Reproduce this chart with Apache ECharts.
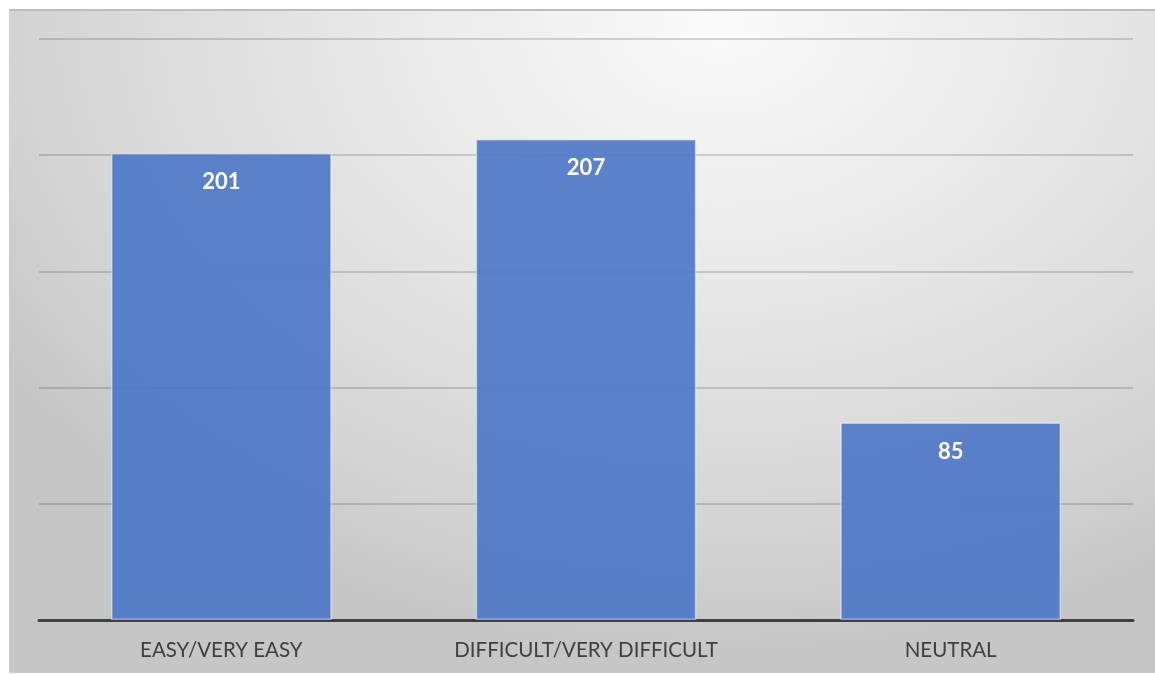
<!DOCTYPE html>
<html>
<head>
<meta charset="utf-8">
<script src="https://cdn.jsdelivr.net/npm/echarts@6/dist/echarts.min.js"></script>
<style>
  html, body { margin: 0; padding: 0; background: #ffffff; }
  #wrap {
    position: absolute; left: 9px; top: 9px; width: 1146px; height: 664px;
    box-sizing: border-box;
    border-top: 2px solid #bdbdbd;
    background: radial-gradient(ellipse 75% 95% at 62% 2%, #fafafa 0%, #e6e6e6 45%, #d4d4d4 80%, #c6c6c6 100%);
  }
  #chart { width: 100%; height: 100%; }
</style>
</head>
<body>
<div id="wrap"><div id="chart"></div></div>
<script>
// Responses by perceived difficulty
const categories = ['EASY/VERY EASY', 'DIFFICULT/VERY DIFFICULT', 'NEUTRAL'];
const counts = [201, 207, 85];

const chart = echarts.init(document.getElementById('chart'), null, { renderer: 'canvas' });
chart.setOption({
  backgroundColor: 'transparent',
  animation: false,
  grid: { left: 30, right: 22, top: 28, bottom: 53 },
  xAxis: {
    type: 'category',
    data: categories,
    axisTick: { show: false },
    axisLine: { lineStyle: { color: '#404040', width: 3 } },
    axisLabel: {
      color: '#404040', fontSize: 20.5, fontFamily: 'Lato, "Open Sans", sans-serif',
      margin: 20
    }
  },
  yAxis: {
    type: 'value',
    min: 0, max: 250, interval: 50,
    axisLabel: { show: false },
    axisLine: { show: false },
    axisTick: { show: false },
    splitLine: { lineStyle: { color: 'rgba(0,0,0,0.2)', width: 1.5 } }
  },
  series: [{
    type: 'bar',
    data: counts,
    barCategoryGap: '39.5%',
    itemStyle: {
      color: 'rgba(76,118,200,0.9)',
      borderColor: 'rgba(255,255,255,0.45)',
      borderWidth: 1.5
    },
    label: {
      show: true, position: 'insideTop', distance: 18,
      color: '#ffffff', fontSize: 22, fontWeight: 'bold',
      fontFamily: 'Lato, "Open Sans", sans-serif'
    }
  }]
});
</script>
</body>
</html>
